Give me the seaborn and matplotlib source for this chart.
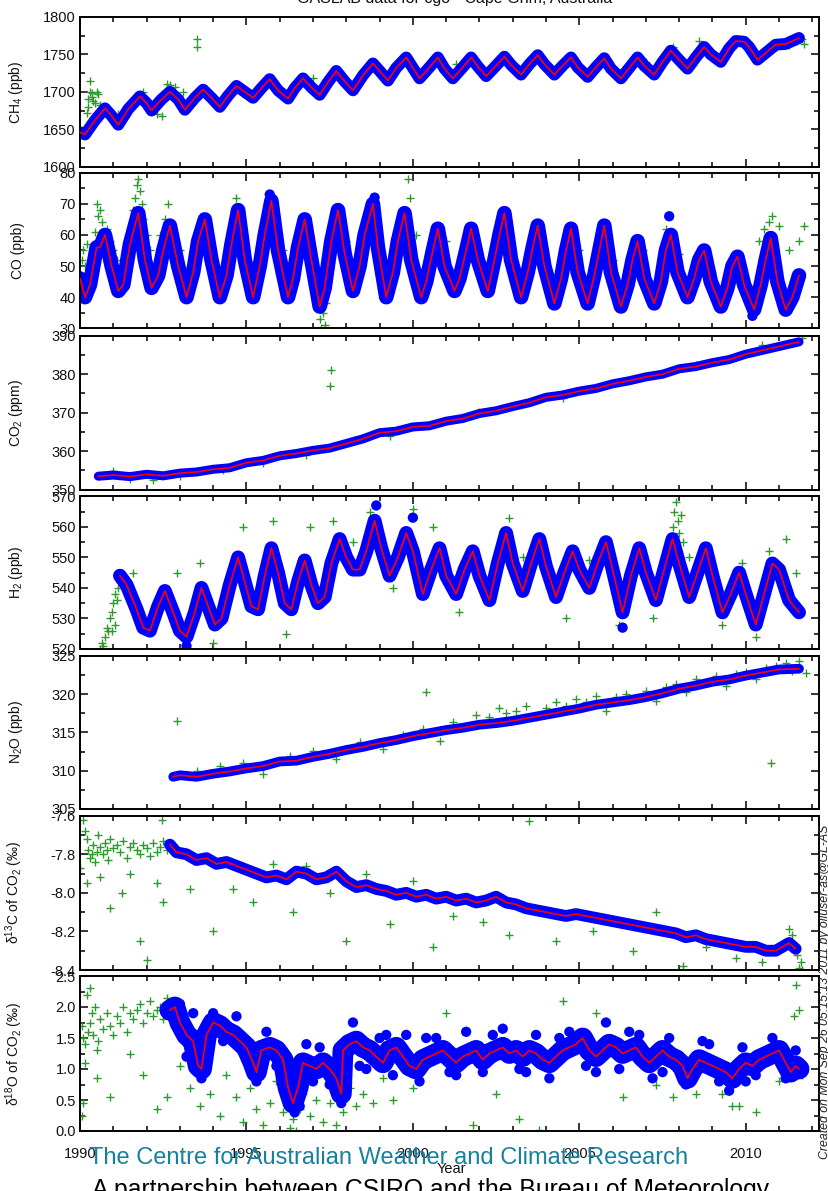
import matplotlib
matplotlib.use("Agg")
import matplotlib.pyplot as plt
from matplotlib.ticker import MultipleLocator, FormatStrFormatter
from matplotlib import font_manager as fm
import seaborn as sns

# ---------------- data ----------------
years_major = [1990, 1995, 2000, 2005, 2010]

ch4_fit = [(1990.0,1646),(1990.15,1643),(1990.45,1662),(1990.75,1678),(1990.95,1668),(1991.15,1656),
 (1991.45,1677),(1991.8,1694),(1992.0,1685),(1992.15,1675),(1992.45,1690),(1992.7,1700),(1992.95,1690),
 (1993.15,1676),(1993.45,1692),(1993.7,1703),(1993.95,1692),(1994.2,1680),(1994.45,1695),(1994.7,1708),
 (1994.95,1700),(1995.2,1692),(1995.45,1705),(1995.7,1717),(1995.95,1702),(1996.25,1691),(1996.45,1705),
 (1996.7,1718),(1996.95,1706),(1997.2,1696),(1997.45,1713),(1997.7,1728),(1997.95,1714),(1998.2,1702),
 (1998.5,1722),(1998.8,1738),(1999.0,1728),(1999.25,1715),(1999.5,1732),(1999.8,1746),(2000.0,1732),
 (2000.2,1718),(2000.5,1733),(2000.75,1746),(2000.95,1731),(2001.2,1718),(2001.5,1733),(2001.75,1746),
 (2001.95,1734),(2002.2,1721),(2002.5,1735),(2002.75,1747),(2002.95,1736),(2003.25,1723),(2003.5,1737),
 (2003.75,1749),(2003.95,1737),(2004.25,1723),(2004.5,1735),(2004.75,1746),(2004.95,1733),(2005.25,1720),
 (2005.5,1733),(2005.75,1745),(2005.95,1731),(2006.25,1718),(2006.5,1732),(2006.75,1746),(2006.95,1735),
 (2007.25,1723),(2007.5,1740),(2007.75,1755),(2007.95,1745),(2008.25,1731),(2008.5,1746),(2008.75,1760),
 (2008.95,1750),(2009.25,1740),(2009.5,1758),(2009.7,1768),(2009.95,1767),(2010.1,1760),(2010.35,1743),
 (2010.6,1752),(2010.9,1763),(2011.2,1764),(2011.6,1772)]
ch4_out = [(1990.2,1672),(1990.25,1690),(1990.3,1714),(1990.3,1700),(1990.35,1698),(1990.35,1693),
 (1990.4,1688),(1990.45,1685),(1990.25,1680),(1990.5,1700),(1990.55,1697),(1990.6,1683),(1991.15,1670),
 (1991.9,1700),(1992.3,1671),(1992.45,1668),(1992.6,1710),(1992.7,1709),(1992.85,1707),(1993.1,1700),
 (1993.5,1770),(1993.5,1760),(1994.2,1678),(1995.6,1718),(1997.0,1719),(1998.3,1705),(2001.3,1737),
 (2003.3,1728),(2006.3,1725),(2007.0,1740),(2007.8,1760),(2008.6,1768),(2009.2,1745),(2010.9,1760),
 (2011.3,1762),(2011.5,1768),(2011.6,1774),(2011.7,1770),(2011.75,1764)]
ch4_blue = []

co_fit = [(1990.0,46),(1990.15,40),(1990.3,44),(1990.5,56),(1990.6,56),(1990.75,60),(1990.95,50),
 (1991.15,42),(1991.3,44),(1991.5,57),(1991.75,67),(1991.95,52),(1992.15,43),(1992.35,47),(1992.5,55),
 (1992.7,63),(1992.95,50),(1993.2,40),(1993.4,48),(1993.55,58),(1993.75,65),(1993.95,52),(1994.2,40),
 (1994.4,47),(1994.55,57),(1994.75,68),(1994.95,52),(1995.2,40),(1995.4,50),(1995.55,60),(1995.75,71),
 (1995.95,55),(1996.25,40),(1996.4,46),(1996.55,56),(1996.75,65),(1996.95,52),(1997.2,37),(1997.35,43),
 (1997.55,58),(1997.75,68),(1997.95,54),(1998.2,42),(1998.4,50),(1998.55,60),(1998.8,70),(1998.95,56),
 (1999.2,40),(1999.4,48),(1999.55,58),(1999.75,67),(1999.95,52),(2000.25,40),(2000.4,45),(2000.6,55),
 (2000.75,62),(2000.95,50),(2001.25,42),(2001.4,46),(2001.6,55),(2001.75,62),(2001.95,52),(2002.25,42),
 (2002.45,52),(2002.6,60),(2002.75,67),(2002.95,52),(2003.25,40),(2003.45,48),(2003.6,56),(2003.75,63),
 (2003.95,50),(2004.25,38),(2004.45,46),(2004.6,55),(2004.75,62),(2004.95,48),(2005.25,38),(2005.45,47),
 (2005.6,55),(2005.75,63),(2005.95,48),(2006.25,37),(2006.45,44),(2006.6,52),(2006.75,58),(2006.95,46),
 (2007.25,38),(2007.45,45),(2007.6,55),(2007.75,60),(2007.95,48),(2008.25,40),(2008.45,46),(2008.6,52),
 (2008.75,55),(2008.95,45),(2009.25,37),(2009.45,43),(2009.6,50),(2009.75,53),(2009.95,44),(2010.25,36),
 (2010.45,44),(2010.6,52),(2010.75,59),(2010.95,45),(2011.2,36),(2011.4,40),(2011.6,47)]
co_out = [(1990.05,52),(1990.1,55),(1990.15,50),(1990.2,57),(1990.3,48),(1990.35,53),(1990.45,61),
 (1990.5,70),(1990.55,66),(1990.6,68),(1990.65,64),(1990.7,61),(1990.8,62),(1990.9,58),(1991.0,55),
 (1991.1,52),(1991.3,47),(1991.5,62),(1991.6,68),(1991.65,72),(1991.7,76),(1991.75,78),(1991.8,74),
 (1991.85,70),(1991.9,65),(1992.0,60),(1992.1,55),(1992.3,50),(1992.4,60),(1992.55,65),(1992.65,70),
 (1992.75,58),(1993.0,55),(1993.5,52),(1994.0,48),(1994.7,72),(1995.6,65),(1996.1,55),(1996.8,60),
 (1997.2,33),(1997.25,30),(1997.3,35),(1997.35,31),(1997.4,38),(1997.1,40),(1998.0,58),(1998.6,63),
 (1999.1,45),(1999.85,78),(1999.9,72),(2000.1,60),(2001.0,58),(2002.9,58),(2004.0,50),(2005.0,55),
 (2006.0,52),(2006.9,55),(2007.6,62),(2008.0,54),(2009.0,48),(2010.4,58),(2010.55,62),(2010.7,64),
 (2010.8,66),(2011.0,63),(2011.3,55),(2011.6,58),(2011.75,63)]
co_blue = [(2007.7,66),(1991.7,62),(1995.7,73),(1998.85,72),(2010.2,34)]

co2_fit = [(1990.55,353.5),(1991.0,353.8),(1991.5,353.4),(1992.0,354.0),(1992.5,353.6),(1993.0,354.3),
 (1993.5,354.6),(1994.0,355.3),(1994.5,355.7),(1995.0,357.0),(1995.5,357.6),(1996.0,358.8),(1996.5,359.4),
 (1997.0,360.2),(1997.5,360.8),(1998.0,362.0),(1998.5,363.2),(1999.0,364.8),(1999.5,365.2),(2000.0,366.3),
 (2000.5,366.6),(2001.0,367.8),(2001.5,368.5),(2002.0,369.8),(2002.5,370.5),(2003.0,371.6),(2003.5,372.6),
 (2004.0,374.0),(2004.5,374.6),(2005.0,375.6),(2005.5,376.3),(2006.0,377.5),(2006.5,378.3),(2007.0,379.3),
 (2007.5,380.0),(2008.0,381.4),(2008.5,382.0),(2009.0,383.0),(2009.5,383.8),(2010.0,385.2),(2010.5,386.2),
 (2011.0,387.2),(2011.6,388.4)]
co2_out = [(1991.0,354.8),(1991.5,352.7),(1992.2,352.5),(1993.0,353.5),(1994.3,355.2),(1995.5,356.9),
 (1996.8,359.0),(1997.55,381.0),(1997.5,377.0),(1999.3,364.0),(2002.0,370.3),(2004.5,373.8),
 (2008.5,382.5),(2010.5,387.5),(2011.3,388.2),(2011.7,389.5)]
co2_blue = []

h2_fit = [(1991.2,544),(1991.4,541),(1991.7,533),(1991.9,527),(1992.1,526),(1992.35,534),(1992.55,539),
 (1992.8,532),(1993.0,526),(1993.2,524),(1993.45,532),(1993.65,540),(1993.85,534),(1994.05,528),(1994.25,530),
 (1994.5,541),(1994.75,550),(1994.95,542),(1995.15,534),(1995.35,533),(1995.55,544),(1995.75,553),
 (1995.95,545),(1996.15,535),(1996.35,533),(1996.55,542),(1996.75,549),(1996.95,541),(1997.15,535),
 (1997.35,537),(1997.55,548),(1997.8,556),(1998.0,550),(1998.2,546),(1998.4,546),(1998.6,552),(1998.85,562),
 (1999.05,553),(1999.3,544),(1999.55,550),(1999.8,558),(2000.0,552),(2000.3,538),(2000.55,546),(2000.8,553),
 (2001.0,544),(2001.3,538),(2001.55,546),(2001.8,552),(2002.0,544),(2002.3,536),(2002.55,548),(2002.8,558),
 (2003.0,548),(2003.3,539),(2003.55,548),(2003.8,556),(2004.0,547),(2004.3,537),(2004.55,545),(2004.8,552),
 (2005.0,546),(2005.3,540),(2005.55,548),(2005.8,555),(2006.0,546),(2006.3,532),(2006.55,544),(2006.8,553),
 (2007.0,545),(2007.3,536),(2007.55,546),(2007.8,556),(2008.0,548),(2008.3,537),(2008.55,545),(2008.8,553),
 (2009.0,544),(2009.3,532),(2009.55,538),(2009.8,545),(2010.0,538),(2010.3,528),(2010.55,538),(2010.8,548),
 (2011.0,546),(2011.3,536),(2011.6,532)]
h2_out = [(1990.6,520),(1990.65,522),(1990.7,521),(1990.75,524),(1990.8,527),(1990.85,526),(1990.9,530),
 (1990.95,532),(1991.0,535),(1991.05,538),(1991.1,536),(1991.15,540),(1991.2,542),(1991.25,545),
 (1991.05,528),(1990.95,526),(1991.6,545),(1992.9,545),(1993.6,548),(1994.0,522),(1994.9,560),(1995.8,562),
 (1996.2,525),(1996.9,560),(1997.6,562),(1998.2,555),(1998.7,565),(1999.4,540),(2000.0,566),(2000.6,560),
 (2001.4,532),(2002.1,540),(2002.9,563),(2003.3,550),(2004.1,540),(2004.6,530),(2005.3,549),(2006.2,528),
 (2007.2,530),(2007.8,560),(2007.85,565),(2007.9,568),(2007.95,562),(2008.0,558),(2008.05,564),
 (2008.1,555),(2008.3,550),(2009.3,528),(2009.9,548),(2010.3,524),(2010.7,552),(2011.2,556),(2011.5,545)]
h2_blue = [(2006.3,527),(1998.9,567),(2000.0,563),(1993.2,521)]

n2o_fit = [(1992.8,309.2),(1993.0,309.4),(1993.5,309.2),(1994.0,309.6),(1994.5,309.9),(1995.0,310.3),
 (1995.5,310.6),(1996.0,311.2),(1996.5,311.3),(1997.0,311.8),(1997.5,312.2),(1998.0,312.7),(1998.5,313.1),
 (1999.0,313.6),(1999.5,314.0),(2000.0,314.5),(2000.5,314.9),(2001.0,315.3),(2001.5,315.6),(2002.0,316.0),
 (2002.5,316.2),(2003.0,316.5),(2003.5,316.9),(2004.0,317.3),(2004.5,317.7),(2005.0,318.1),(2005.5,318.6),
 (2006.0,318.9),(2006.5,319.2),(2007.0,319.6),(2007.5,320.1),(2008.0,320.7),(2008.5,321.1),(2009.0,321.6),
 (2009.5,321.9),(2010.0,322.4),(2010.5,322.8),(2011.0,323.2),(2011.6,323.3)]
n2o_out = [(1992.9,316.5),(1993.5,309.9),(1994.2,310.6),(1994.9,311.0),(1995.5,309.6),(1996.3,311.9),
 (1997.0,312.6),(1997.7,311.5),(1998.4,313.8),(1999.1,312.8),(1999.7,314.6),(2000.3,315.5),(2000.4,320.2),
 (2000.8,313.9),(2001.2,316.3),(2001.9,317.2),(2002.3,317.0),(2002.6,318.2),(2002.8,317.5),(2003.1,317.8),
 (2003.4,318.5),(2003.7,317.0),(2004.0,318.2),(2004.3,319.0),(2004.6,318.5),(2004.9,319.4),(2005.2,318.9),
 (2005.5,319.8),(2005.8,317.8),(2006.1,319.6),(2006.4,320.0),(2006.7,319.3),(2007.0,320.4),(2007.3,319.1),
 (2007.6,320.9),(2007.9,321.3),(2008.2,320.2),(2008.5,321.9),(2008.8,321.4),(2009.1,322.3),(2009.4,321.0),
 (2009.7,322.6),(2010.0,322.9),(2010.3,322.0),(2010.6,323.4),(2010.75,311.0),(2010.9,323.6),(2011.2,324.0),
 (2011.4,323.0),(2011.6,324.3),(2011.8,322.7)]
n2o_blue = []

d13c_fit = [(1992.7,-7.75),(1992.9,-7.79),(1993.2,-7.80),(1993.5,-7.83),(1993.8,-7.82),(1994.1,-7.85),
 (1994.4,-7.84),(1994.7,-7.86),(1995.0,-7.88),(1995.3,-7.90),(1995.6,-7.92),(1995.9,-7.91),(1996.2,-7.93),
 (1996.5,-7.89),(1996.8,-7.90),(1997.1,-7.93),(1997.4,-7.92),(1997.7,-7.89),(1998.0,-7.94),(1998.3,-7.97),
 (1998.6,-7.96),(1998.9,-7.98),(1999.2,-7.99),(1999.5,-8.01),(1999.8,-8.00),(2000.1,-8.02),(2000.4,-8.01),
 (2000.7,-8.03),(2001.0,-8.02),(2001.3,-8.04),(2001.6,-8.03),(2001.9,-8.05),(2002.2,-8.04),(2002.5,-8.02),
 (2002.8,-8.05),(2003.1,-8.06),(2003.4,-8.08),(2003.7,-8.09),(2004.0,-8.10),(2004.3,-8.11),(2004.6,-8.12),
 (2004.9,-8.11),(2005.2,-8.12),(2005.5,-8.13),(2005.8,-8.14),(2006.1,-8.15),(2006.4,-8.16),(2006.7,-8.17),
 (2007.0,-8.18),(2007.3,-8.19),(2007.6,-8.20),(2007.9,-8.21),(2008.2,-8.23),(2008.5,-8.22),(2008.8,-8.24),
 (2009.1,-8.25),(2009.4,-8.26),(2009.7,-8.27),(2010.0,-8.28),(2010.3,-8.28),(2010.6,-8.30),(2010.9,-8.30),
 (2011.1,-8.28),(2011.3,-8.26),(2011.5,-8.29)]
d13c_out = [(1990.1,-7.62),(1990.15,-7.68),(1990.2,-7.72),(1990.25,-7.78),(1990.3,-7.82),(1990.35,-7.80),
 (1990.4,-7.75),(1990.45,-7.84),(1990.5,-7.79),(1990.55,-7.70),(1990.6,-7.76),(1990.7,-7.80),(1990.75,-7.74),
 (1990.8,-7.78),(1990.85,-7.83),(1990.9,-7.72),(1991.0,-7.77),(1991.1,-7.75),(1991.2,-7.79),(1991.3,-7.73),
 (1991.4,-7.82),(1991.5,-7.76),(1991.6,-7.74),(1991.7,-7.78),(1991.8,-7.80),(1991.9,-7.75),(1992.0,-7.77),
 (1992.1,-7.81),(1992.2,-7.74),(1992.3,-7.79),(1992.4,-7.76),(1992.5,-7.73),(1992.6,-7.78),(1990.2,-7.95),
 (1990.6,-7.92),(1990.9,-8.08),(1991.25,-8.0),(1991.5,-7.90),(1991.8,-8.25),(1992.0,-8.35),(1992.3,-7.95),
 (1992.5,-8.05),(1992.45,-7.62),(1990.0,-7.87),(1993.3,-7.98),(1994.0,-8.2),(1994.6,-7.98),(1995.2,-8.05),
 (1995.8,-7.85),(1996.4,-8.1),(1996.8,-7.86),(1997.5,-8.0),(1998.0,-8.25),(1998.6,-7.9),(1999.3,-8.16),
 (2000.0,-7.94),(2000.6,-8.28),(2001.2,-8.12),(2002.1,-8.15),(2002.9,-8.22),(2003.5,-7.63),(2004.3,-8.25),
 (2005.4,-8.2),(2006.6,-8.3),(2007.3,-8.1),(2008.1,-8.38),(2008.8,-8.28),(2009.7,-8.34),(2010.5,-8.36),
 (2011.3,-8.19),(2011.4,-8.22),(2011.55,-8.32),(2011.6,-8.39),(2011.65,-8.36),(2011.7,-8.4)]
d13c_blue = []

d18o_fit = [(1992.7,1.95),(1992.85,2.0),(1993.0,1.75),(1993.2,1.55),(1993.4,1.45),(1993.55,1.05),
 (1993.65,1.0),(1993.8,1.55),(1994.0,1.75),(1994.2,1.7),(1994.4,1.6),(1994.6,1.55),(1994.8,1.45),(1995.0,1.35),
 (1995.2,1.1),(1995.3,0.95),(1995.45,1.3),(1995.7,1.35),(1995.9,1.3),(1996.1,1.15),(1996.25,0.7),(1996.4,0.45),
 (1996.55,0.7),(1996.7,1.1),(1996.9,1.05),(1997.1,1.0),(1997.3,1.1),(1997.5,1.0),(1997.7,0.85),(1997.85,0.6),
 (1997.9,1.3),(1998.1,1.4),(1998.3,1.45),(1998.5,1.35),(1998.7,1.3),(1998.9,1.2),(1999.1,1.1),(1999.3,1.3),
 (1999.5,1.35),(1999.7,1.2),(1999.9,1.05),(2000.1,1.0),(2000.3,1.15),(2000.5,1.2),(2000.7,1.25),(2000.9,1.3),
 (2001.1,1.2),(2001.3,1.1),(2001.5,1.2),(2001.7,1.25),(2001.9,1.3),(2002.1,1.15),(2002.3,1.25),(2002.5,1.3),
 (2002.7,1.35),(2002.9,1.25),(2003.1,1.3),(2003.3,1.2),(2003.5,1.3),(2003.7,1.25),(2003.9,1.15),(2004.1,1.1),
 (2004.3,1.2),(2004.5,1.3),(2004.7,1.35),(2004.9,1.4),(2005.1,1.5),(2005.3,1.3),(2005.5,1.2),(2005.7,1.3),
 (2005.9,1.4),(2006.1,1.35),(2006.3,1.25),(2006.5,1.3),(2006.7,1.35),(2006.9,1.2),(2007.1,1.1),(2007.3,1.2),
 (2007.5,1.3),(2007.7,1.2),(2007.9,1.15),(2008.1,1.05),(2008.25,0.85),(2008.4,1.0),(2008.6,1.15),(2008.8,1.1),
 (2009.0,1.05),(2009.2,1.0),(2009.4,0.95),(2009.6,0.85),(2009.8,1.0),(2010.0,1.1),(2010.2,1.05),(2010.4,1.15),
 (2010.6,1.2),(2010.8,1.25),(2011.0,1.3),(2011.2,1.1),(2011.35,0.95),(2011.5,1.05),(2011.6,1.0)]
d18o_out = [(1990.05,1.7),(1990.1,1.5),(1990.15,1.4),(1990.2,2.2),(1990.25,1.6),(1990.3,1.75),(1990.35,1.9),
 (1990.4,1.55),(1990.45,2.0),(1990.5,1.3),(1990.55,1.45),(1990.6,1.8),(1990.7,1.65),(1990.8,1.9),(1990.9,1.7),
 (1991.0,1.55),(1991.1,1.85),(1991.2,1.75),(1991.3,2.0),(1991.4,1.6),(1991.5,1.9),(1991.6,1.8),(1991.7,1.95),
 (1991.8,2.05),(1991.9,1.75),(1992.0,1.9),(1992.1,2.1),(1992.2,1.85),(1992.3,1.95),(1992.4,2.0),(1992.5,1.8),
 (1992.6,2.15),(1990.05,0.25),(1990.1,0.45),(1990.15,1.1),(1990.5,0.85),(1990.9,0.55),(1991.5,1.25),
 (1991.9,0.9),(1992.3,0.35),(1992.6,0.55),(1990.3,2.3),(1993.0,1.05),(1993.3,0.7),(1993.6,0.4),(1993.9,0.6),
 (1994.2,0.25),(1994.4,0.9),(1994.7,0.55),(1994.9,0.15),(1995.1,0.7),(1995.3,0.35),(1995.5,0.1),(1995.7,0.45),
 (1995.9,0.8),(1996.1,0.3),(1996.3,0.05),(1996.4,0.2),(1996.5,0.0),(1996.6,0.35),(1996.7,0.6),(1996.9,0.25),
 (1997.1,0.5),(1997.3,0.15),(1997.5,0.45),(1997.7,0.1),(1997.9,0.3),(1998.1,0.7),(1998.3,0.4),(1998.5,0.6),
 (1998.8,0.45),(1999.1,0.85),(1999.4,0.5),(2000.0,0.7),(2001.0,1.9),(2001.8,0.1),(2002.5,0.6),(2003.2,0.2),
 (2003.8,0.02),(2004.5,2.1),(2005.5,1.9),(2006.3,0.55),(2007.3,0.75),(2007.8,0.55),(2008.5,0.6),(2009.3,0.6),
 (2009.6,0.4),(2009.8,0.4),(2010.3,0.3),(2011.0,0.8),(2011.5,2.35),(2011.6,1.95),(2011.7,0.9),(2011.45,1.85)]
d18o_blue = [(1993.0,2.05),(1993.2,1.2),(1993.4,1.9),(1993.65,0.85),(1994.0,1.9),(1994.3,1.45),(1994.7,1.85),
 (1995.0,1.15),(1995.3,0.8),(1995.6,1.6),(1995.9,1.05),(1996.3,0.85),(1996.45,0.3),(1996.5,0.55),(1996.6,0.4),
 (1996.8,1.4),(1997.0,0.8),(1997.2,1.35),(1997.5,0.75),(1997.85,0.45),(1997.9,0.6),(1998.2,1.75),(1998.6,1.0),
 (1999.0,1.5),(1999.4,0.9),(1999.8,1.55),(2000.2,0.8),(2000.7,1.5),(2001.1,0.95),(2001.6,1.6),(2002.1,0.95),
 (2002.7,1.65),(2003.2,1.0),(2003.7,1.55),(2004.1,0.85),(2004.7,1.6),(2005.2,1.05),(2005.8,1.75),(2006.2,1.0),
 (2006.8,1.55),(2007.2,0.85),(2007.7,1.5),(2008.2,0.75),(2008.7,1.45),(2009.2,0.8),(2009.5,0.65),(2009.9,1.35),
 (2010.3,0.9),(2010.8,1.5),(2011.2,0.85),(2011.5,1.3),(1998.4,1.05),(1999.2,1.55),(2000.4,1.5),(2001.3,0.9),
 (2002.4,1.55),(2003.4,0.95),(2004.4,1.5),(2005.5,0.95),(2006.5,1.6),(2007.5,0.95),(2008.9,1.4),(2010.0,0.8)]

ylabels = ["CH$_4$ (ppb)", "CO (ppb)", "CO$_2$ (ppm)", "H$_2$ (ppb)", "N$_2$O (ppb)",
           "\u03b4$^{13}$C of CO$_2$ (\u2030)", "\u03b4$^{18}$O of CO$_2$ (\u2030)"]
title_text = "GASLAB data for cgo - Cape Grim, Australia"
footer_1 = "The Centre for Australian Weather and Climate Research"
footer_2 = "A partnership between CSIRO and the Bureau of Meteorology"
side_text = "Created on Mon Sep 26 05:15:13 2011 by oliuser-as@GL-AS"

# ---------------- style ----------------
sns.set_style("ticks")


def has_font(name):
    try:
        fm.findfont(fm.FontProperties(family=name), fallback_to_default=False)
        return True
    except Exception:
        return False


NARROW = has_font("Liberation Sans Narrow")
BASE = "Liberation Sans Narrow" if NARROW else "Liberation Sans"
plt.rcParams["font.family"] = [BASE, "DejaVu Sans"]
plt.rcParams["mathtext.default"] = "regular"
plt.rcParams["axes.unicode_minus"] = False

TICK_FS = 12.5 if NARROW else 10.5
LAB_FS = 11.5 if NARROW else 10
FOOT_FS = 20.5 if NARROW else 17

W, H = 829, 1191
fig = plt.figure(figsize=(W / 100, H / 100), dpi=100)

panels = [
    # (top px, bottom px), data, ylim, major, minor, fmt, band width
    ((17, 166.7), ch4_fit, ch4_out, ch4_blue, (1600, 1800), 50, 25, "%d", 8.5),
    ((172.7, 328.3), co_fit, co_out, co_blue, (30, 80), 10, 5, "%d", 10.5),
    ((335.7, 489.7), co2_fit, co2_out, co2_blue, (350, 390), 10, 5, "%d", 6.5),
    ((496.3, 649), h2_fit, h2_out, h2_blue, (520, 570), 10, 5, "%d", 10),
    ((655.7, 809), n2o_fit, n2o_out, n2o_blue, (305, 325), 5, 2.5, "%d", 7),
    ((815.7, 970), d13c_fit, d13c_out, d13c_blue, (-8.4, -7.6), 0.2, 0.1, "%.1f", 8.5),
    ((976, 1131), d18o_fit, d18o_out, d18o_blue, (0.0, 2.5), 0.5, 0.25, "%.1f", 15),
]

GREEN = "#2e9a2e"
BLUE = "#0000ff"
RED = "#ff0000"
L, R = 80, 819

for i, ((top, bot), fit, out, blue, ylim, maj, mnr, fmt, band) in enumerate(panels):
    ax = fig.add_axes([L / W, 1 - bot / H, (R - L) / W, (bot - top) / H])
    ot = [p[0] for p in out]
    ov = [p[1] for p in out]
    ft = [p[0] for p in fit]
    fv = [p[1] for p in fit]
    sns.scatterplot(x=ot, y=ov, ax=ax, marker="+", color=GREEN, s=34,
                    linewidth=1.0, zorder=1, legend=False)
    sns.lineplot(x=ft, y=fv, ax=ax, color=BLUE, lw=band, estimator=None, sort=False,
                 solid_joinstyle="round", solid_capstyle="round", zorder=2, legend=False)
    if blue:
        sns.scatterplot(x=[p[0] for p in blue], y=[p[1] for p in blue], ax=ax,
                        color=BLUE, s=55, edgecolor="none", zorder=2, legend=False)
    sns.lineplot(x=ft, y=fv, ax=ax, color=RED, lw=1.2, estimator=None, sort=False,
                 zorder=3, legend=False)

    ax.set_xlim(1990, 2012.2)
    ax.set_ylim(*ylim)
    ax.xaxis.set_major_locator(MultipleLocator(5))
    ax.xaxis.set_minor_locator(MultipleLocator(1))
    ax.yaxis.set_major_locator(MultipleLocator(maj))
    ax.yaxis.set_minor_locator(MultipleLocator(mnr))
    ax.yaxis.set_major_formatter(FormatStrFormatter(fmt))
    ax.tick_params(which="both", direction="in", top=True, right=True,
                   color="black", width=1.1, labelsize=TICK_FS, labelcolor="#111111")
    ax.tick_params(which="major", length=6, pad=3)
    ax.tick_params(which="minor", length=3.5)
    for s in ax.spines.values():
        s.set_color("black")
        s.set_linewidth(1.4)
    ax.set_xlabel("")
    ax.set_ylabel(ylabels[i], fontsize=LAB_FS, color="#111111")
    ax.yaxis.set_label_coords(-0.074, 0.5)
    if i < len(panels) - 1:
        ax.tick_params(axis="x", labelbottom=False)
    else:
        ax.set_xticks(years_major)
        ax.set_xticklabels([str(y) for y in years_major])
        ax.tick_params(axis="x", pad=11.5)

# texts
fig.text(455 / W, 1 - 3 / H, title_text, ha="center", va="baseline",
         fontsize=13 if NARROW else 11.5, color="#111111")
fig.text(451 / W, 1 - 1169 / H, "Year", ha="center", va="center",
         fontsize=TICK_FS, color="#111111")
fig.text(389 / W, 1 - 1158 / H, footer_1, ha="center", va="center",
         fontsize=FOOT_FS, color="#16809e", zorder=10)
fig.text(92 / W, 1 - 1190 / H, footer_2, ha="left", va="center",
         fontsize=FOOT_FS + 0.8, color="#000000", zorder=10)
fig.text(825 / W, 1 - 992 / H, side_text, ha="center", va="center", rotation=90,
         fontsize=8.8, style="italic", color="#222222",
         family=["Liberation Sans", "DejaVu Sans"])

fig.savefig("out.png", dpi=100)
